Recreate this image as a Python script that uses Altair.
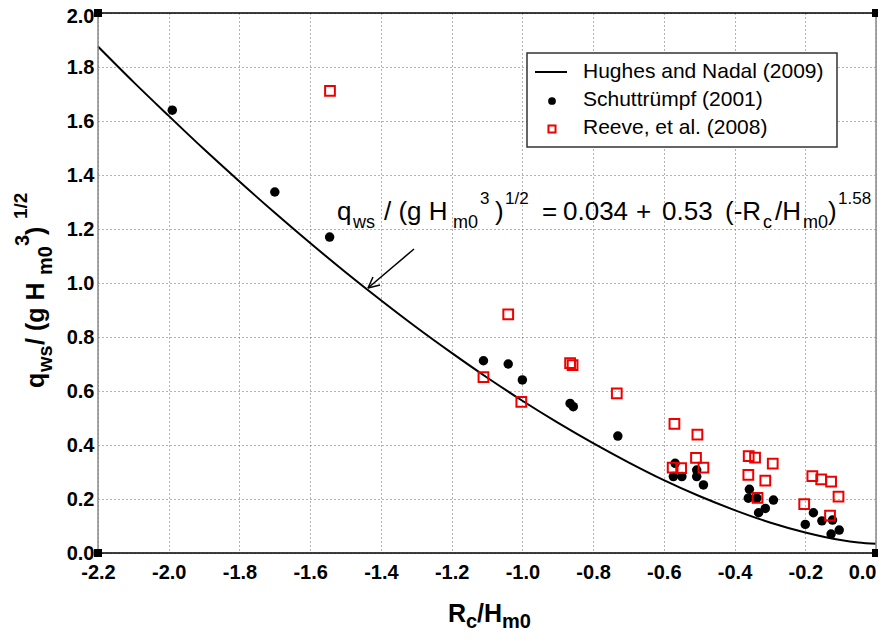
import altair as alt
import pandas as pd

# ---------------- data ----------------
curve_x = [-2.2, -2.1, -2.0, -1.9, -1.8, -1.7, -1.6, -1.5, -1.4, -1.3, -1.2, -1.1,
           -1.0, -0.9, -0.8, -0.7, -0.6, -0.5, -0.4, -0.3, -0.2, -0.1, -0.05, 0.0]
curve_y = [1.876, 1.745, 1.619, 1.495, 1.376, 1.260, 1.148, 1.040, 0.936, 0.836, 0.741, 0.650,
           0.564, 0.483, 0.407, 0.336, 0.270, 0.211, 0.159, 0.113, 0.076, 0.048, 0.039, 0.034]

schutt_x = [-1.99, -1.70, -1.545, -1.11, -1.04, -1.00, -0.865, -0.856, -0.73,
            -0.568, -0.573, -0.549, -0.507, -0.507, -0.488, -0.358, -0.361, -0.337,
            -0.29, -0.313, -0.332, -0.177, -0.20, -0.153, -0.123, -0.127, -0.104]
schutt_y = [1.64, 1.337, 1.17, 0.712, 0.70, 0.641, 0.554, 0.542, 0.433,
            0.332, 0.283, 0.283, 0.307, 0.283, 0.252, 0.236, 0.203, 0.203,
            0.196, 0.165, 0.149, 0.149, 0.106, 0.119, 0.122, 0.070, 0.085]

reeve_x = [-1.544, -1.04, -1.11, -1.003, -0.865, -0.858, -0.733, -0.570, -0.505,
           -0.509, -0.488, -0.575, -0.551, -0.360, -0.342, -0.292, -0.361, -0.313,
           -0.335, -0.180, -0.155, -0.127, -0.106, -0.203, -0.130]
reeve_y = [1.712, 0.884, 0.651, 0.560, 0.703, 0.696, 0.591, 0.478, 0.438,
           0.352, 0.316, 0.316, 0.314, 0.359, 0.353, 0.331, 0.289, 0.268,
           0.204, 0.285, 0.273, 0.264, 0.209, 0.181, 0.138]

legend_labels = ["Hughes and Nadal (2009)", "Schuttrümpf (2001)", "Reeve, et al. (2008)"]

x_ticks = [round(-2.2 + 0.1 * i, 1) for i in range(23)]
y_ticks = [round(0.1 * i, 1) for i in range(21)]

# ---------------- layout ----------------
W, H = 778, 540
OX, OY = 98, 13          # plot origin on page
FONT = "Liberation Sans"

def px(x):
    return x - OX

def py(y):
    return y - OY

one = pd.DataFrame({"a": [0]})

label_expr = ("abs(round(datum.value*10)) % 2 == 1 ? '' : "
              "replace(format(datum.value, '.1f'), '\u2212', '-')")

xscale = alt.Scale(domain=[-2.2, 0.0], nice=False, zero=False)
yscale = alt.Scale(domain=[0.0, 2.0], nice=False, zero=False)

axis_common = dict(grid=True, gridDash=[1, 3], gridColor="#666", gridWidth=1,
                   domain=False, ticks=False, tickSize=0, title=None,
                   labelFont=FONT, labelFontSize=20, labelFontWeight="bold",
                   labelColor="black", labelExpr=label_expr, labelFlush=False,
                   labelOverlap=False)

curve_df = pd.DataFrame({"x": curve_x, "y": curve_y})
curve = alt.Chart(curve_df).mark_line(color="black", strokeWidth=2, interpolate="monotone").encode(
    x=alt.X("x:Q", scale=xscale, axis=alt.Axis(
        values=x_ticks, labelPadding=9,
        labelAlign={"condition": {"test": "datum.value == 0", "value": "right"}, "value": "center"},
        **axis_common)),
    y=alt.Y("y:Q", scale=yscale, axis=alt.Axis(
        values=y_ticks, labelPadding=4,
        labelOffset={"condition": {"test": "datum.value == 2", "value": 3}, "value": 0},
        **axis_common)),
)

schutt_df = pd.DataFrame({"x": schutt_x, "y": schutt_y})
dots = alt.Chart(schutt_df).mark_circle(color="black", size=90, opacity=1).encode(
    x=alt.X("x:Q", scale=xscale), y=alt.Y("y:Q", scale=yscale))

reeve_df = pd.DataFrame({"x": reeve_x, "y": reeve_y})
squares = alt.Chart(reeve_df).mark_point(shape="square", filled=False, color="#ee0000",
                                         size=95, strokeWidth=2, opacity=1).encode(
    x=alt.X("x:Q", scale=xscale), y=alt.Y("y:Q", scale=yscale))

# frame
def rule(x1, y1, x2, y2, color, w):
    return alt.Chart(one).mark_rule(color=color, strokeWidth=w).encode(
        x=alt.value(x1), y=alt.value(y1), x2=alt.value(x2), y2=alt.value(y2))

frame = [
    rule(0, 0, W, 0, "black", 1.5),
    rule(0, H, W, H, "black", 1.5),
    rule(0, 0, 0, H, "#888", 1.5),
    rule(W, 0, W, H, "#888", 1.5),
]

corner_df = pd.DataFrame({"x": [-2.2, -2.2, 0.0, 0.0], "y": [0.0, 2.0, 0.0, 2.0]})
corners = alt.Chart(corner_df).mark_square(color="black", size=64, opacity=1).encode(
    x=alt.X("x:Q", scale=xscale), y=alt.Y("y:Q", scale=yscale))

# arrow
tip = (368, 288)
arrow = [
    rule(px(414), py(249), px(tip[0]), py(tip[1]), "black", 1.5),
    rule(px(tip[0]), py(tip[1]), px(380), py(285), "black", 1.5),
    rule(px(tip[0]), py(tip[1]), px(373), py(277), "black", 1.5),
]

# legend
legend = [
    alt.Chart(one).mark_rect(fill="white", stroke="#333", strokeWidth=1.5).encode(
        x=alt.value(px(527)), x2=alt.value(px(837)), y=alt.value(py(53)), y2=alt.value(py(147))),
    rule(px(535), py(72), px(567), py(72), "black", 2),
    alt.Chart(one).mark_circle(color="black", size=60, opacity=1).encode(
        x=alt.value(px(552)), y=alt.value(py(101))),
    alt.Chart(one).mark_point(shape="square", filled=False, color="#ee0000", size=50,
                              strokeWidth=2, opacity=1).encode(
        x=alt.value(px(552)), y=alt.value(py(129))),
]
for lab, by in zip(legend_labels, [78, 106, 134]):
    legend.append(alt.Chart(one).mark_text(text=lab, align="left", baseline="alphabetic",
                                           font=FONT, fontSize=21, color="black").encode(
        x=alt.value(px(583)), y=alt.value(py(by))))

def txt(s, x, y, size, bold=False, angle=0):
    return alt.Chart(one).mark_text(text=s, align="left", baseline="alphabetic", font=FONT,
                                    fontSize=size, fontWeight="bold" if bold else "normal",
                                    angle=angle, color="black").encode(
        x=alt.value(px(x)), y=alt.value(py(y)))

texts = []
# equation annotation
MB, SB, UB = 220, 228, 204
eq = [("q", 337, MB, 26), ("ws", 353, SB, 18), ("/ (g H", 384, MB, 26), ("m0", 453, SB, 18),
      ("3", 480, UB, 17), (")", 495, MB, 26), ("1/2", 505, UB, 17), ("=", 542, MB, 26),
      ("0.034", 563, MB, 26), ("+", 636, MB, 26), ("0.53", 662, MB, 26), ("(-R", 725, MB, 26),
      ("c", 763, SB, 18), ("/H", 775, MB, 26), ("m0", 803, SB, 18), (")", 828, MB, 26),
      ("1.58", 838, UB, 17)]
for s, x, y, sz in eq:
    texts.append(txt(s, x, y, sz))

# x-axis title
XB, XS = 622, 628
xt = [("R", 448, XB, 25), ("c", 466, XS, 20), ("/", 477, XB, 25), ("H", 484, XB, 25),
      ("m0", 502, XS, 20)]
for s, x, y, sz in xt:
    texts.append(txt(s, x, y, sz, bold=True))

# y-axis title (rotated): (text, baseline x, start y, size)
yt = [("q", 44, 388, 25), ("ws", 52, 372, 20), (" / (g H", 44, 345, 25), ("m0", 52, 275, 20),
      ("3", 29, 246, 20), (" )", 44, 235, 25), ("1/2", 27, 219, 19)]
for s, x, y, sz in yt:
    texts.append(txt(s, x, y, sz, bold=True, angle=270))

chart = alt.layer(curve, dots, squares, *frame, corners, *arrow, *legend, *texts).properties(
    width=W, height=H,
    autosize=alt.AutoSizeParams(type="none"),
    padding={"left": 90, "top": 5, "right": 2, "bottom": 79},
).configure_view(stroke=None)

chart.save("out.html", embed_options={"renderer": "svg", "actions": False})
